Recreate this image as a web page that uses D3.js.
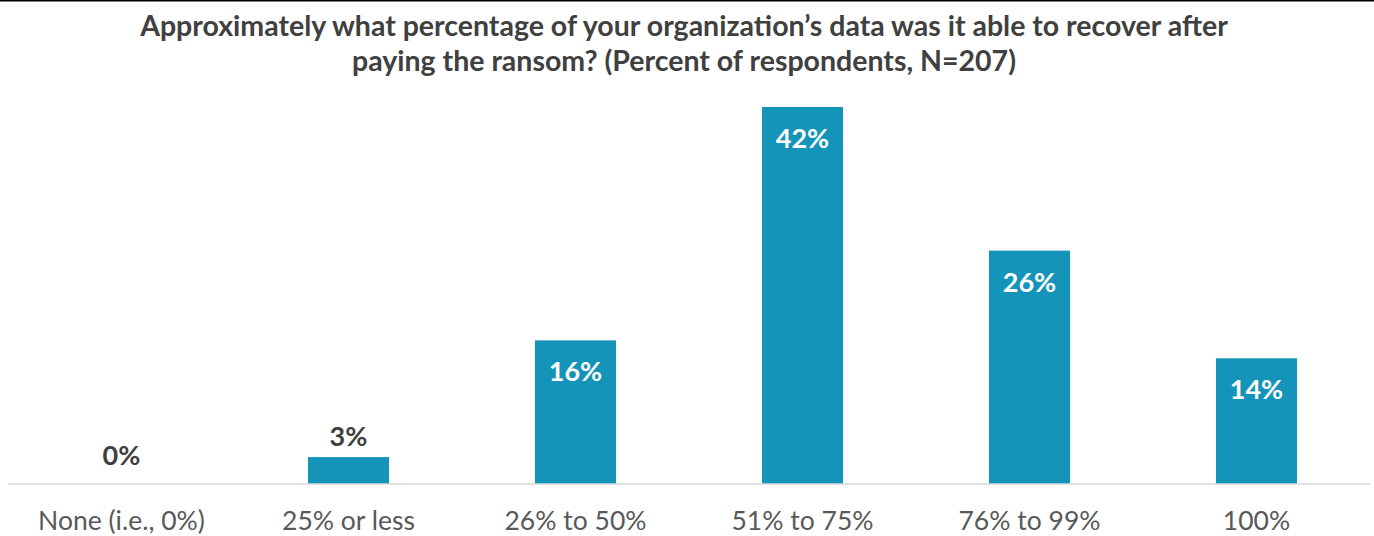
<!DOCTYPE html>
<html>
<head>
<meta charset="utf-8">
<script src="https://d3js.org/d3.v7.min.js"></script>
<style>
  body { margin: 0; background: #fff; }
  text { font-family: "Lato", "Open Sans", sans-serif; }
</style>
</head>
<body>
<svg id="chart"></svg>
<script>
  // data
  const categories = ["None (i.e., 0%)", "25% or less", "26% to 50%", "51% to 75%", "76% to 99%", "100%"];
  const percents = [0, 3, 16, 42, 26, 14];
  const titleLines = [
    "Approximately what percentage of your organization\u2019s data was it able to recover after",
    "paying the ransom? (Percent of respondents, N=207)"
  ];

  const width = 1374, height = 536;
  const baseY = 484;

  const svg = d3.select("#chart")
    .attr("width", width)
    .attr("height", height);

  // thin black rule at the very top
  svg.append("line")
    .attr("x1", 0).attr("x2", width)
    .attr("y1", 0.5).attr("y2", 0.5)
    .attr("stroke", "#000")
    .attr("stroke-width", 2);

  // title
  svg.append("text")
    .attr("x", 684)
    .attr("text-anchor", "middle")
    .attr("fill", "#404040")
    .attr("font-size", 28.5)
    .attr("font-weight", "bold")
    .selectAll("tspan")
    .data(titleLines)
    .enter().append("tspan")
    .attr("x", 684)
    .attr("y", (d, i) => 36 + i * 35)
    .text(d => d);

  let x = d3.scaleBand()
    .domain(categories)
    .range([8, 1370])
    .paddingInner(0.643)
    .paddingOuter(0.3215);

  let y = d3.scaleLinear()
    .domain([0, 42])
    .range([baseY, 107]);

  // bars
  svg.selectAll("rect.bar")
    .data(percents)
    .enter().append("rect")
    .attr("class", "bar")
    .attr("x", (d, i) => x(categories[i]))
    .attr("y", d => y(d))
    .attr("width", x.bandwidth())
    .attr("height", d => baseY - y(d))
    .attr("fill", "#1594BA");

  // baseline
  svg.append("line")
    .attr("x1", 8).attr("x2", 1370)
    .attr("y1", baseY).attr("y2", baseY)
    .attr("stroke", "#d9d9d9")
    .attr("stroke-width", 1.5);

  // value labels: inside the bar when there's room, above it otherwise
  svg.selectAll("text.val")
    .data(percents)
    .enter().append("text")
    .attr("class", "val")
    .attr("x", (d, i) => x(categories[i]) + x.bandwidth() / 2)
    .attr("y", d => d >= 10 ? y(d) + 41 : (d === 0 ? baseY - 19 : y(d) - 11))
    .attr("text-anchor", "middle")
    .attr("font-size", 27)
    .attr("font-weight", "bold")
    .attr("fill", d => d >= 10 ? "#fff" : "#404040")
    .text(d => d + "%");

  // category axis labels
  svg.selectAll("text.cat")
    .data(categories)
    .enter().append("text")
    .attr("class", "cat")
    .attr("x", d => x(d) + x.bandwidth() / 2)
    .attr("y", 530)
    .attr("text-anchor", "middle")
    .attr("font-size", 26.5)
    .attr("fill", "#595959")
    .text(d => d);
</script>
</body>
</html>
